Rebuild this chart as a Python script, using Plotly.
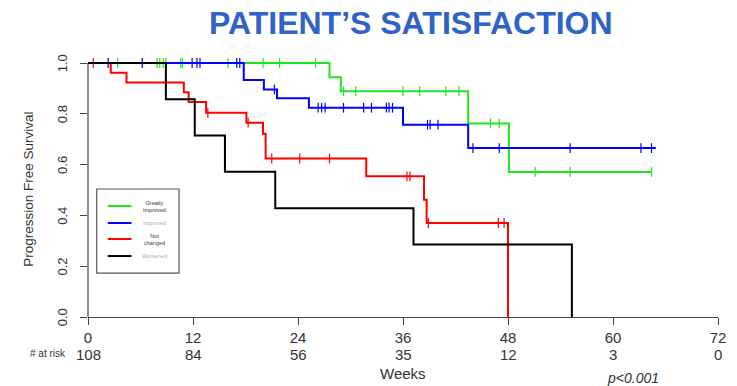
import plotly.graph_objects as go

# Kaplan-Meier estimates by patient satisfaction group (time in weeks)
groups = ["Greatly Improved", "Improved", "Not changed", "Worsened"]
colors = ["#1ee61e", "#0000ff", "#ff0000", "#000000"]

green_times = [27.6, 28.9, 43.45, 48.1]
green_surv = [0.944, 0.889, 0.762, 0.571]
green_end = 64.4
green_censor = [3.4, 7.9, 8.2, 8.6, 8.9, 10.6, 10.8, 16.0, 20.0, 21.9, 26.0,
                29.2, 30.6, 36.0, 37.9, 40.9, 42.4, 46.0, 47.0, 51.1, 55.1, 64.4]

blue_times = [17.8, 20.1, 21.6, 25.25, 36.0, 43.45]
blue_surv = [0.933, 0.896, 0.861, 0.824, 0.757, 0.665]
blue_end = 64.9
blue_censor = [2.3, 6.2, 11.9, 12.45, 12.8, 17.0, 17.35, 21.3, 26.3, 26.7, 27.1,
               29.2, 31.5, 32.4, 34.1, 34.4, 34.8, 38.8, 39.1, 40.0, 44.0, 47.0,
               55.1, 63.2, 64.4]

red_times = [2.6, 4.4, 10.95, 11.5, 13.5, 18.1, 20.0, 20.3, 31.8, 38.4, 38.7, 48.0]
red_surv = [0.962, 0.923, 0.885, 0.846, 0.804, 0.765, 0.721, 0.624, 0.554, 0.462, 0.37, 0.0]
red_end = 48.0
red_censor = [0.6, 13.7, 18.3, 21.0, 24.2, 27.6, 36.45, 36.8, 38.9, 46.9, 47.55]

black_times = [8.9, 12.2, 15.65, 21.4, 37.2, 55.3]
black_surv = [6 / 7, 5 / 7, 4 / 7, 3 / 7, 2 / 7, 0.0]
black_end = 55.3
black_censor = []

x_ticks = [0, 12, 24, 36, 48, 60, 72]
at_risk = [108, 84, 56, 35, 12, 3, 0]
y_ticks = [0.0, 0.2, 0.4, 0.6, 0.8, 1.0]

series = [
    (green_times, green_surv, green_end, green_censor),
    (blue_times, blue_surv, blue_end, blue_censor),
    (red_times, red_surv, red_end, red_censor),
    (black_times, black_surv, black_end, black_censor),
]

W, H = 737, 386
M_L, M_R, M_T, M_B = 88, 11, 55, 69
Y_TOP = 1.0315
PW, PH = W - M_L - M_R, H - M_T - M_B


def surv_at(times, surv, t):
    s = 1.0
    for ti, si in zip(times, surv):
        if ti <= t:
            s = si
    return s


def pyp(py):
    """pixel row -> paper y (paper spans the plotting area)"""
    return (H - M_B - py) / PH


def pxp(px):
    """pixel column -> paper x"""
    return (px - M_L) / PW


fig = go.Figure()

for (times, surv, end, cens), name, col in zip(series, groups, colors):
    xs = [0] + times + [end]
    ys = [1.0] + surv + [surv[-1]]
    fig.add_trace(go.Scatter(x=xs, y=ys, mode="lines", line=dict(color=col, width=2, shape="hv"),
                             name=name, showlegend=False, hoverinfo="skip"))
    if cens:
        fig.add_trace(go.Scatter(x=cens, y=[surv_at(times, surv, c) for c in cens], mode="markers",
                                 marker=dict(symbol="line-ns", size=7, color=col,
                                             line=dict(color=col, width=1.2)),
                                 showlegend=False, hoverinfo="skip", cliponaxis=False))

shapes = []
annotations = []

# y axis line spanning 0..1 only
shapes.append(dict(type="line", xref="paper", yref="y", x0=0, x1=0, y0=0, y1=1,
                   line=dict(color="#444", width=1.2)))

# y tick labels, written vertically as in base R graphics
for v in y_ticks:
    annotations.append(dict(x=pxp(62), y=v, xref="paper", yref="y", text=f"{v:.1f}",
                            showarrow=False, textangle=-90, xanchor="center", yanchor="middle",
                            font=dict(size=13, color="#333", family="Liberation Sans")))

# legend box
shapes.append(dict(type="rect", xref="x", yref="y", x0=1.0, x1=10.4, y0=0.173, y1=0.504,
                   line=dict(color="#555", width=1.2), fillcolor="white"))
leg_y = [0.437, 0.370, 0.307, 0.240]
for ly, col in zip(leg_y, colors):
    shapes.append(dict(type="line", xref="x", yref="y", x0=2.26, x1=4.97, y0=ly, y1=ly,
                       line=dict(color=col, width=2)))
leg_text = ["Greatly<br>Improved", "Improved", "Not<br>changed", "Worsened"]
leg_col = ["#333", "#aaa", "#444", "#aaa"]
for ly, txt, tc in zip(leg_y, leg_text, leg_col):
    annotations.append(dict(x=7.6, y=ly, xref="x", yref="y", text=txt, showarrow=False,
                            font=dict(size=5.5, color=tc, family="Liberation Sans"),
                            align="center"))

# title
annotations.append(dict(x=pxp(415), y=pyp(23), xref="paper", yref="paper",
                        text="PATIENT’S SATISFACTION", showarrow=False,
                        font=dict(size=32, color="#2f63c6", family="Liberation Sans", weight="bold"),
                        xanchor="center", yanchor="middle"))

# y-axis title
annotations.append(dict(x=pxp(27), y=pyp(189), xref="paper", yref="paper",
                        text="Progression Free Survival", showarrow=False, textangle=-90,
                        font=dict(size=13.5, color="#333", family="Liberation Sans"),
                        xanchor="center", yanchor="middle"))

# numbers at risk
annotations.append(dict(x=pxp(68), y=pyp(353), xref="paper", yref="paper",
                        text="# at risk", showarrow=False, xanchor="right", yanchor="middle",
                        font=dict(size=10, color="#333", family="Liberation Sans")))
for xt, n in zip(x_ticks, at_risk):
    annotations.append(dict(x=xt, y=pyp(354), xref="x", yref="paper", text=str(n),
                            showarrow=False, xanchor="center", yanchor="middle",
                            font=dict(size=15, color="#333", family="Liberation Sans")))

annotations.append(dict(x=36, y=pyp(373), xref="x", yref="paper", text="Weeks",
                        showarrow=False, xanchor="center", yanchor="middle",
                        font=dict(size=15, color="#333", family="Liberation Sans")))
annotations.append(dict(x=pxp(640), y=pyp(378), xref="paper", yref="paper",
                        text="<i>p<0.001</i>", showarrow=False, xanchor="center", yanchor="middle",
                        font=dict(size=14, color="#333", family="Liberation Sans")))

fig.update_layout(
    width=W, height=H,
    margin=dict(l=M_L, r=M_R, t=M_T, b=M_B),
    plot_bgcolor="white", paper_bgcolor="white",
    shapes=shapes, annotations=annotations,
    xaxis=dict(range=[0, 72], tickvals=x_ticks, ticktext=[str(v) for v in x_ticks],
               showgrid=False, zeroline=False, showline=True, linecolor="#444", linewidth=1.2,
               ticks="outside", ticklen=7, tickcolor="#444", tickwidth=1.2,
               tickfont=dict(size=15, color="#333", family="Liberation Sans")),
    yaxis=dict(range=[0, Y_TOP], tickvals=y_ticks, showticklabels=False,
               showgrid=False, zeroline=False, showline=False,
               ticks="outside", ticklen=7, tickcolor="#444", tickwidth=1.2),
)

fig.write_html("out.html")
